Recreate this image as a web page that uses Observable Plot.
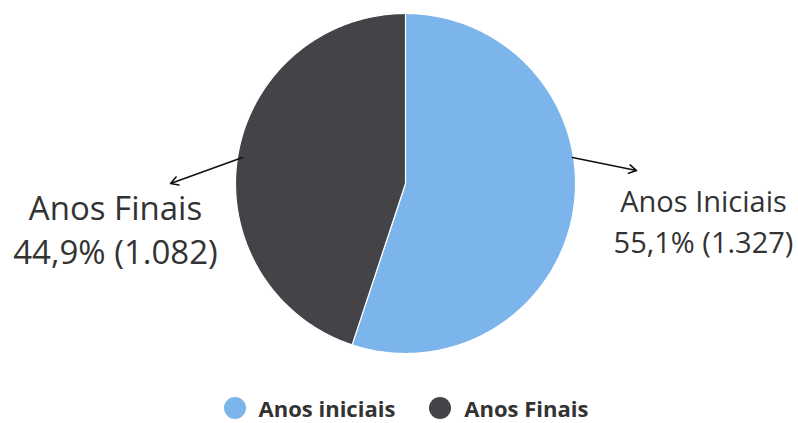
<!DOCTYPE html>
<html>
<head>
<meta charset="utf-8">
<script src="https://cdn.jsdelivr.net/npm/d3@7"></script>
<script src="https://cdn.jsdelivr.net/npm/@observablehq/plot@0.6"></script>
<style>
  html, body { margin: 0; padding: 0; background: #fff; }
  #wrap { position: relative; width: 798px; height: 423px; overflow: hidden; }
  #legend { position: absolute; left: 0; top: 394px; width: 812px; height: 28px;
    display: flex; justify-content: center; align-items: center; gap: 34px;
    font-family: "Open Sans", sans-serif; font-weight: bold; font-size: 22px; line-height: 26px; color: #333; }
  .item { display: flex; align-items: center; gap: 13px; }
  .sw { width: 22px; height: 22px; border-radius: 50%; display: inline-block; }
</style>
</head>
<body>
<div id="wrap"><div id="chart"></div><div id="legend"></div></div>
<script>
const categories = ["Anos Iniciais", "Anos Finais"];
const values = [1327, 1082];
const percentLabels = ["55,1%", "44,9%"];
const countLabels = ["1.327", "1.082"];
const legendLabels = ["Anos iniciais", "Anos Finais"];
const colors = ["#7cb5ec", "#434348"];

const arcs = d3.pie().sort(null).startAngle(0).endAngle(2 * Math.PI)(values);

// slice polygons in unit-circle coordinates
const slicePts = [];
arcs.forEach((a, i) => {
  slicePts.push({k: categories[i], x: 0, y: 0});
  const n = Math.max(2, Math.ceil((a.endAngle - a.startAngle) / (Math.PI / 360)));
  for (let j = 0; j <= n; j++) {
    const t = a.startAngle + (a.endAngle - a.startAngle) * j / n;
    slicePts.push({k: categories[i], x: Math.sin(t), y: Math.cos(t)});
  }
  slicePts.push({k: categories[i], x: 0, y: 0});
});

// label layout (connector + text), in unit-circle units
const labelLayout = [
  {x1: 0.982, y1: 0.153, x2: 1.359, y2: 0.076, tx: 1.753, ty: -0.211},
  {x1: -0.959, y1: 0.153, x2: -1.382, y2: 0.0, tx: -1.706, ty: -0.262}
];
const labels = categories.map((c, i) => ({
  ...labelLayout[i],
  text: `${c}\n${percentLabels[i]} (${countLabels[i]})`
}));

const chart = Plot.plot({
  width: 798,
  height: 394,
  margin: 0,
  x: {domain: [-1, 1], range: [235, 575], axis: null},
  y: {domain: [-1, 1], range: [353, 13], axis: null},
  color: {domain: categories, range: colors},
  style: {fontFamily: "'Open Sans', sans-serif", background: "white"},
  marks: [
    Plot.line(slicePts, {x: "x", y: "y", z: "k", fill: "k", stroke: "white", strokeWidth: 1.2, curve: "linear-closed"}),
    Plot.arrow(labels, {x1: "x1", y1: "y1", x2: "x2", y2: "y2", stroke: "#111", strokeWidth: 1.6, headLength: 8, bend: 0}),
    Plot.text(labels.filter((d, i) => i === 0), {x: "tx", y: "ty", text: "text", fontSize: 29, lineHeight: 1.42, fill: "#333", textAnchor: "middle", lineAnchor: "middle"}),
    Plot.text(labels.filter((d, i) => i === 1), {x: "tx", y: "ty", text: "text", fontSize: 33, lineHeight: 1.34, fill: "#333", textAnchor: "middle", lineAnchor: "middle"})
  ]
});
document.getElementById("chart").appendChild(chart);

const legend = document.getElementById("legend");
legendLabels.forEach((l, i) => {
  const it = document.createElement("div");
  it.className = "item";
  it.innerHTML = `<span class="sw" style="background:${colors[i]}"></span><span>${l}</span>`;
  legend.appendChild(it);
});
</script>
</body>
</html>
